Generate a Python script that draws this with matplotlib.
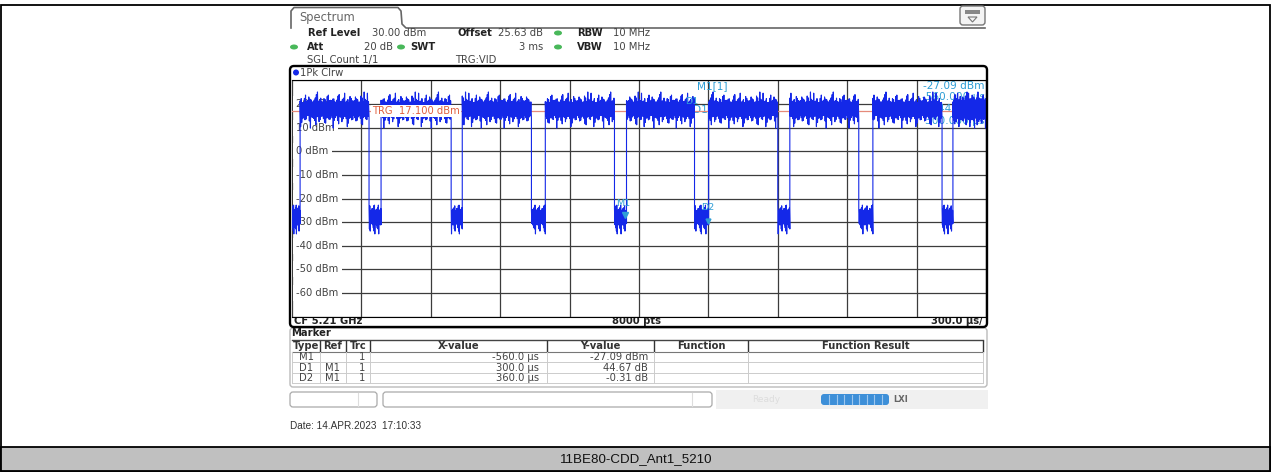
import numpy as np
import matplotlib
matplotlib.use("Agg")
import matplotlib.pyplot as plt
from matplotlib.patches import FancyBboxPatch, Rectangle, Ellipse, Polygon

W, H, DPI = 1271, 472, 100

# ---------------- data ----------------
x_start_us, x_stop_us = -2000, 1000
y_top_dbm, y_bottom_dbm = 30, -70
y_tick_values = [20, 10, 0, -10, -20, -30, -40, -50, -60]
y_tick_labels = ["20 dBm", "10 dBm", "0 dBm", "-10 dBm", "-20 dBm",
                 "-30 dBm", "-40 dBm", "-50 dBm", "-60 dBm"]
burst_rise_us = [-1965, -1615, -1264, -905, -554, -199, 152, 511, 857]
burst_fall_us = [-1667, -1312, -965, -606, -260, 100, 450, 810, 1000]
burst_hi_dbm = [21.5, 22.2, 20.8, 23.4, 21.1, 22.0, 24.6, 21.3, 20.6, 22.4, 21.2,
                23.0, 21.8, 20.9, 22.6, 25.1, 21.4, 21.0, 22.3, 20.7, 23.8, 21.6,
                22.1, 20.9, 21.7, 24.0, 21.2, 22.5, 20.8, 21.9, 23.2, 21.4]
burst_lo_dbm = [14.2, 13.1, 15.0, 11.6, 14.4, 13.7, 14.8, 10.4, 14.0, 13.3, 15.1,
                12.8, 14.5, 13.9, 11.2, 14.7, 13.4, 14.9, 12.2, 14.1, 13.6, 15.2,
                9.8, 14.3, 13.0, 14.6, 12.5, 14.8, 13.8, 11.9, 14.2, 13.5]
gap_hi_dbm = [-24.2, -23.1, -25.0, -24.5, -22.8, -24.8, -23.9, -25.2]
gap_lo_dbm = [-31.1, -33.8, -30.6, -32.4, -35.0, -31.2, -32.9, -30.8]
trigger_dbm = 17.1
marker_names = ["M1", "D1", "D2"]
marker_x_us = [-560, -260, -200]
marker_y_dbm = [-27.09, 17.58, -27.40]

table_header = ["Type", "Ref", "Trc", "X-value", "Y-value", "Function", "Function Result"]
table_type = ["M1", "D1", "D2"]
table_ref = ["", "M1", "M1"]
table_trc = ["1", "1", "1"]
table_x = ["-560.0 \u00b5s", "300.0 \u00b5s", "360.0 \u00b5s"]
table_y = ["-27.09 dBm", "44.67 dB", "-0.31 dB"]

caption = "11BE80-CDD_Ant1_5210"

# ---------------- figure ----------------
fig = plt.figure(figsize=(W / DPI, H / DPI), dpi=DPI)
fig.patch.set_facecolor("white")

def px_axes(x0, y0, x1, y1):
    return [x0 / W, 1 - y1 / H, (x1 - x0) / W, (y1 - y0) / H]

bg = fig.add_axes([0, 0, 1, 1])
bg.set_xlim(0, W); bg.set_ylim(H, 0); bg.axis("off")

GX0, GX1, GY0, GY1 = 292, 986, 80.4, 316.6
spec = fig.add_axes(px_axes(GX0, GY0, GX1, GY1))
ov = fig.add_axes([0, 0, 1, 1])
ov.set_xlim(0, W); ov.set_ylim(H, 0); ov.axis("off"); ov.patch.set_alpha(0)

def p2d(x, y):
    t = x_start_us + (x - GX0) / (GX1 - GX0) * (x_stop_us - x_start_us)
    d = y_top_dbm - (y - GY0) / (GY1 - GY0) * (y_top_dbm - y_bottom_dbm)
    return t, d

FS = 7.2
TEAL = "#2f9ed6"
BLUE = "#1428e8"
GREEN = "#49b85a"

# outer frame and caption
bg.add_patch(Rectangle((0.5, 4.5), W - 1.5, H - 5.5, fill=False, ec="black", lw=1.3))
bg.add_patch(Rectangle((0.5, 447), W - 1.5, H - 448, fc="#c0c0c0", ec="black", lw=1.3))
bg.text(636, 459.5, caption, ha="center", va="center", fontsize=9.6,
        family="Liberation Sans", color="#111111")

# tab
bg.plot([291, 291, 294, 398, 401, 402, 406, 985], [28, 11, 7.5, 7.5, 11, 24, 28, 28],
        color="#666666", lw=1.2)
bg.text(299, 18, "Spectrum", fontsize=8.3, color="#666666", va="center")
bg.add_patch(FancyBboxPatch((960, 6), 25, 19, boxstyle="round,pad=0,rounding_size=3",
                            fc="#f4f4f4", ec="#777777", lw=1))
bg.add_patch(Rectangle((965, 10), 15, 4, fc="#888888", ec="none"))
bg.add_patch(Polygon([(968, 17), (977, 17), (972.5, 22)], closed=True, fc="none", ec="#777777", lw=0.8))

# header info
def bold(x, y, s, ha="left"):
    bg.text(x, y, s, fontsize=FS, fontweight="bold", color="#222222", va="center", ha=ha)
def reg(x, y, s, ha="left"):
    bg.text(x, y, s, fontsize=FS, color="#444444", va="center", ha=ha)
def dot(x, y, c=GREEN):
    bg.add_patch(Ellipse((x, y), 8, 5, fc=c, ec="none"))

bold(308, 33, "Ref Level"); reg(372, 33, "30.00 dBm")
bold(457, 33, "Offset"); reg(498, 33, "25.63 dB"); dot(558, 33)
bold(577, 33, "RBW"); reg(613, 33, "10 MHz")
dot(294, 47); bold(307, 47, "Att"); reg(393, 47, "20 dB", ha="right"); dot(401, 47)
bold(410, 47, "SWT"); reg(543, 47, "3 ms", ha="right"); dot(558, 47)
bold(577, 47, "VBW"); reg(613, 47, "10 MHz")
reg(307, 60, "SGL Count 1/1"); reg(455, 60, "TRG:VID")

# diagram frame
ov.add_patch(FancyBboxPatch((290, 66), 697, 261, boxstyle="round,pad=0,rounding_size=4",
                            fill=False, ec="black", lw=1.7))
bg.add_patch(Ellipse((296, 72.5), 6, 6, fc=BLUE, ec="none"))
reg(300, 72.5, "1Pk Clrw")
bold(294, 320.5, "CF 5.21 GHz")
bold(636, 320.5, "8000 pts", ha="center")
bold(983, 320.5, "300.0 \u00b5s/", ha="right")

# ---------------- spectrum axes ----------------
spec.set_xlim(x_start_us, x_stop_us)
spec.set_ylim(y_bottom_dbm, y_top_dbm)
spec.set_xticks(np.linspace(x_start_us, x_stop_us, 11))
spec.set_yticks(np.arange(y_bottom_dbm, y_top_dbm + 1, 10))
spec.tick_params(length=0, labelbottom=False, labelleft=False)
spec.set_axisbelow(True)
spec.grid(True, color="#3c3c3c", lw=0.9)
for s in ["left", "right"]:
    spec.spines[s].set_visible(False)
spec.spines["top"].set_color("black")
spec.spines["bottom"].set_color("black")

lx, _ = p2d(296.5, 0)
for v, lab in zip(y_tick_values, y_tick_labels):
    spec.text(lx, v, lab, fontsize=FS, color="#444444", va="center", ha="left",
              bbox=dict(fc="white", ec="none", pad=2.2), zorder=2)

# marker info (under trace)
def info(x, y, s, ha):
    t, d = p2d(x, y)
    spec.text(t, d, s, fontsize=7.6, color=TEAL, ha=ha, va="center", zorder=2.2)
info(697, 86, "M1[1]", "left"); info(985, 86, "-27.09 dBm", "right")
info(985, 97.5, "-560.000 \u00b5s", "right")
info(693, 109, "D1[1]", "left"); info(985, 109, "44.67 dB", "right")
info(985, 121, "300.000 \u00b5s", "right")

# trigger line
spec.axhline(trigger_dbm, color="#e58a7a", lw=0.9, zorder=2.5)

# trace
segs = [(x_start_us, burst_rise_us[0], "gap")]
for i in range(len(burst_rise_us)):
    segs.append((burst_rise_us[i], burst_fall_us[i], "burst"))
    if i + 1 < len(burst_rise_us):
        segs.append((burst_fall_us[i], burst_rise_us[i + 1], "gap"))
tt, vv = [], []
for k, (a, b, kind) in enumerate(segs):
    hi = burst_hi_dbm if kind == "burst" else gap_hi_dbm
    lo = burst_lo_dbm if kind == "burst" else gap_lo_dbm
    n = len(hi)
    r1, r2 = (k * 7) % n, (k * 7 + 11) % n
    vals = []
    for j in range(n):
        vals += [hi[(j + r1) % n], lo[(j + r1) % n], hi[(j + r2) % n], lo[(j + r2) % n]]
    tt += list(np.linspace(a, b, len(vals)))
    vv += vals
spec.plot(tt, vv, color=BLUE, lw=0.8, zorder=3)

# trigger label (over trace)
t0, _ = p2d(372, 0)
spec.text(t0, trigger_dbm, "TRG  17.100 dBm", fontsize=FS, color="#e0603f",
          va="center", ha="left", bbox=dict(fc="white", ec="none", pad=0.8), zorder=4)

# marker symbols
spec.plot([marker_x_us[0]], [marker_y_dbm[0]], marker="v", ms=4, color=TEAL, zorder=5)
spec.plot([marker_x_us[2]], [marker_y_dbm[2] - 2], marker="v", ms=3.5, color=TEAL, zorder=5)
for name, (x, y) in zip(marker_names, [(616, 204), (685, 102), (701, 207)]):
    t, d = p2d(x, y)
    spec.text(t, d, name, fontsize=6.8, color=TEAL, va="center", ha="left", zorder=5)

# ---------------- marker table ----------------
bg.add_patch(FancyBboxPatch((290, 328), 697, 59, boxstyle="round,pad=0,rounding_size=3",
                            fill=False, ec="#bbbbbb", lw=1))
bold(291, 333.5, "Marker")
cols = [292, 320, 346, 370, 547, 654, 748, 983]
bg.plot([292, 983], [340, 340], color="#444444", lw=1)
bg.plot([292, 983], [352, 352], color="#777777", lw=0.8)
for x in cols[1:]:
    bg.plot([x, x], [341, 351], color="#333333", lw=1)
for j, h in enumerate(table_header):
    bg.text((cols[j] + cols[j + 1]) / 2, 346, h, fontsize=FS, fontweight="bold",
            color="#333333", ha="center", va="center")
row_y = [357.2, 367.6, 378.0]
for yb in [362.4, 372.8, 383.2]:
    bg.plot([292, 983], [yb, yb], color="#cccccc", lw=0.7)
for x in cols:
    bg.plot([x, x], [352, 383.2], color="#cccccc", lw=0.7)
for i, y in enumerate(row_y):
    reg((cols[0] + cols[1]) / 2, y, table_type[i], ha="center")
    reg((cols[1] + cols[2]) / 2, y, table_ref[i], ha="center")
    reg(cols[3] - 5, y, table_trc[i], ha="right")
    reg(cols[4] - 8, y, table_x[i], ha="right")
    reg(cols[5] - 6, y, table_y[i], ha="right")

# ---------------- status bar ----------------
bg.add_patch(FancyBboxPatch((290, 392), 87, 15, boxstyle="round,pad=0,rounding_size=3",
                            fc="white", ec="#aaaaaa", lw=0.9))
bg.plot([358, 358], [393, 406], color="#dddddd", lw=0.8)
bg.add_patch(FancyBboxPatch((383, 392), 329, 15, boxstyle="round,pad=0,rounding_size=3",
                            fc="white", ec="#aaaaaa", lw=0.9))
bg.plot([692, 692], [393, 406], color="#dddddd", lw=0.8)
bg.add_patch(Rectangle((716, 390), 272, 19, fc="#f0f0f0", ec="none"))
bg.text(752, 399.5, "Ready", fontsize=6.5, color="#dddddd", va="center")
bg.add_patch(FancyBboxPatch((821, 394), 68, 11, boxstyle="round,pad=0,rounding_size=3",
                            fc="#3d8fd8", ec="none"))
for x in np.arange(829, 889, 7.5):
    bg.plot([x, x], [395, 404], color="#9cc6ee", lw=0.8)
bg.text(893, 399.5, "LXI", fontsize=6, fontweight="bold", color="#666666", va="center")

bg.text(290, 426, "Date: 14.APR.2023  17:10:33", fontsize=7.2, family="Liberation Sans",
        color="#333333", va="center")

fig.savefig("out.png", dpi=DPI)
